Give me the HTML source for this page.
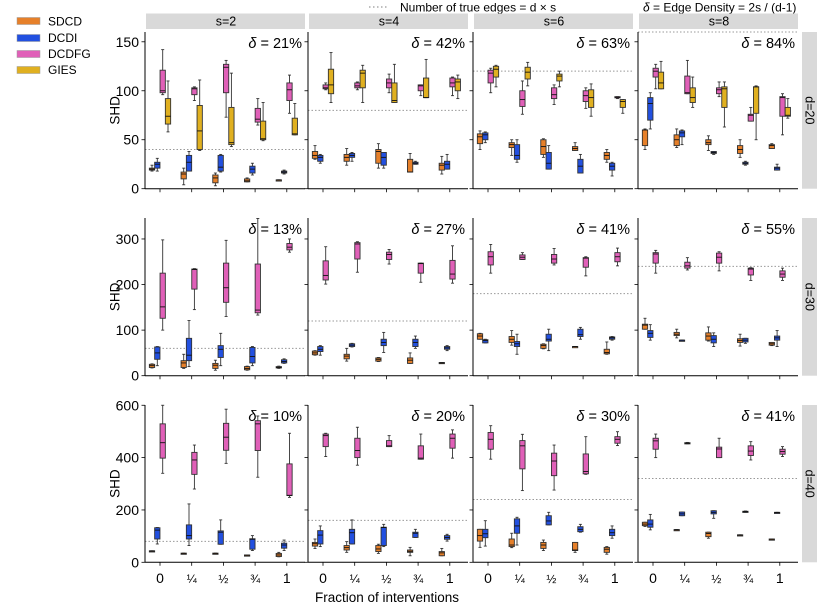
<!DOCTYPE html>
<html><head><meta charset="utf-8">
<style>
html,body{margin:0;padding:0;background:#fff;}
svg{display:block;font-family:"Liberation Sans","DejaVu Sans",sans-serif;}
</style></head>
<body>
<svg id="chart" width="830" height="605" viewBox="0 0 830 605" xmlns="http://www.w3.org/2000/svg">
  <g>
    <rect x="17" y="17.5" width="23" height="7" fill="#e6802a" stroke="#999" stroke-width="0.5"/>
    <text x="48" y="25.5" font-size="12">SDCD</text>
    <rect x="17" y="34.5" width="23" height="7" fill="#2250e0" stroke="#999" stroke-width="0.5"/>
    <text x="48" y="42" font-size="12">DCDI</text>
    <rect x="17" y="50.5" width="23" height="7" fill="#e060b8" stroke="#999" stroke-width="0.5"/>
    <text x="48" y="58" font-size="12">DCDFG</text>
    <rect x="17" y="66.5" width="23" height="7" fill="#e0b020" stroke="#999" stroke-width="0.5"/>
    <text x="48" y="74" font-size="12">GIES</text>
  </g>
  <g>
    <line x1="369" y1="7" x2="389" y2="7" stroke="#999" stroke-width="1.2" stroke-dasharray="1.5,2.5"/>
    <text x="400" y="11.5" font-size="12">Number of true edges = d × s</text>
    <text x="643" y="11.5" font-size="12"><tspan font-style="italic">δ</tspan> = Edge Density = 2s / (d-1)</text>
  </g>
  <g id="plots"></g>
  <text x="387" y="602" font-size="13.5" text-anchor="middle">Fraction of interventions</text>
</svg>
<script>
const categories = ["0","¼","½","¾","1"];
const colLabels = ["s=2","s=4","s=6","s=8"];
const rowLabels = ["d=20","d=30","d=40"];
const deltaLabels = [["21%","42%","63%","84%"],["13%","27%","41%","55%"],["10%","20%","30%","41%"]];
const trueEdges = [[40,80,120,160],[60,120,180,240],[80,160,240,320]];
const yTicks = [[0,50,100,150],[0,100,200,300],[0,200,400,600]];
const yMax = [160,346,601];
const methods = ["SDCD","DCDI","DCDFG","GIES"];
const colors = ["#e6802a","#2250e0","#e060b8","#e0b020"];

// each box: [whiskerLow, q1, median, q3, whiskerHigh]
const sdcd = [
 [[[18,19,20,21,24],[4,10,15,17,21],[3,6,11,14,16],[7,7,8,10,11],[9,9,9,9,9]],
  [[30,31,34,38,44],[24,28,32,35,41],[21,26,38,40,46],[17,17,17,30,36],[15,19,24,26,33]],
  [[40,46,53,56,59],[34,42,45,47,50],[32,35,43,50,51],[39,39,41,43,47],[27,30,34,37,40]],
  [[40,44,60,60,61],[42,44,50,55,61],[39,45,47,50,54],[32,36,40,44,50],[41,41,44,45,46]]],
 [[[17,18,22,25,26],[16,18,28,33,47],[12,16,23,27,34],[12,13,16,20,21],[16,17,18,20,21]],
  [[45,46,50,54,55],[32,37,43,47,60],[31,32,36,39,40],[27,27,34,39,50],[28,28,28,29,29]],
  [[80,80,87,92,93],[67,73,80,86,99],[59,60,66,69,70],[63,63,64,64,64],[47,48,51,58,74]],
  [[102,102,111,113,126],[83,88,91,95,102],[76,78,87,94,107],[65,73,77,81,91],[66,67,70,73,73]]],
 [[[42,42,43,44,44],[33,33,34,35,35],[33,33,34,35,35],[26,26,27,28,28],[21,22,28,34,38]],
  [[53,62,71,76,89],[38,47,56,64,79],[34,41,51,64,69],[25,38,42,47,57],[25,25,36,41,53]],
  [[57,81,102,126,126],[56,60,66,89,111],[45,53,66,76,85],[38,45,47,76,76],[31,38,50,57,60]],
  [[137,140,146,153,153],[122,122,124,125,125],[92,98,110,115,115],[103,103,104,105,105],[87,87,88,89,89]]]
];
const dcdi = [
 [[[18,21,25,27,31],[18,18,27,34,38],[17,18,22,34,35],[14,16,20,23,26],[15,16,17,18,19]],
  [[26,28,32,34,35],[28,32,34,36,37],[21,24,32,37,37],[25,25,26,27,28],[20,20,25,28,35]],
  [[47,50,55,57,58],[27,30,34,45,50],[20,20,26,37,44],[16,16,23,30,35],[13,19,23,26,27]],
  [[61,70,87,93,98],[45,53,57,59,60],[35,36,37,38,38],[24,25,26,27,28],[19,19,21,22,25]]],
 [[[22,36,50,63,64],[20,33,45,82,121],[22,40,58,66,93],[22,28,42,62,64],[27,28,31,35,37]],
  [[45,53,58,64,66],[63,64,67,70,71],[51,66,73,80,95],[60,64,73,80,87],[55,58,61,64,66]],
  [[72,72,77,79,80],[47,64,70,75,91],[55,76,80,91,102],[80,86,90,102,106],[78,80,83,85,86]],
  [[78,84,93,99,112],[77,77,78,78,78],[64,72,80,88,94],[71,74,78,82,82],[64,78,83,87,99]]],
 [[[70,89,123,132,133],[64,89,102,143,223],[69,69,115,120,162],[45,50,88,90,102],[45,54,66,73,85]],
  [[60,70,104,121,139],[70,70,113,126,162],[60,64,133,134,145],[95,95,111,115,126],[81,88,95,102,107]],
  [[62,94,109,126,159],[66,111,139,166,172],[143,143,158,178,191],[115,117,126,136,145],[92,102,113,126,139]],
  [[124,134,146,162,183],[178,178,185,192,192],[168,185,191,197,197],[191,192,194,195,196],[189,189,190,191,191]]]
];
const dcdfg = [
 [[[96,98,100,121,142],[90,96,102,103,104],[73,98,124,127,131],[65,68,71,82,92],[77,90,101,108,116]],
  [[101,102,103,106,108],[101,103,105,108,109],[98,103,108,112,117],[95,100,105,106,106],[95,104,108,113,114]],
  [[98,108,118,121,123],[76,84,91,100,110],[86,92,96,103,106],[82,89,95,100,103],[92,93,93,94,94]],
  [[102,114,120,123,127],[97,97,98,115,131],[94,97,101,103,109],[69,69,75,76,83],[55,74,93,94,97]]],
 [[[100,126,151,225,298],[145,190,233,234,235],[130,161,193,247,297],[133,138,144,245,345],[271,276,282,290,300]],
  [[201,210,220,252,283],[227,256,289,292,294],[245,255,266,271,277],[205,225,246,247,247],[203,212,223,253,285]],
  [[225,243,261,272,288],[255,255,260,265,270],[243,247,256,266,279],[219,238,258,259,261],[241,250,261,270,280]],
  [[225,247,267,270,275],[232,236,241,249,259],[230,247,260,269,272],[209,221,234,236,237],[209,216,223,230,236]]],
 [[[340,398,457,529,600],[280,336,391,420,448],[378,428,478,531,585],[325,427,529,541,559],[248,255,256,376,493]],
  [[404,442,484,490,493],[371,400,427,474,516],[442,442,445,465,484],[394,394,398,445,490],[398,436,474,490,506]],
  [[394,432,470,496,522],[274,357,445,465,489],[276,331,387,417,448],[336,338,347,414,480],[446,455,470,480,499]],
  [[400,432,464,474,490],[453,453,455,457,458],[400,400,433,440,474],[391,408,425,445,461],[404,413,423,432,442]]]
];
const gies = [
 [[[58,66,74,92,110],[39,40,59,85,111],[43,45,47,83,118],[49,50,51,69,88],[55,55,56,72,87]],
  [[88,97,106,122,139],[88,103,118,121,126],[88,88,90,108,127],[93,93,93,113,132],[92,100,109,112,116]],
  [[104,114,122,125,126],[105,112,119,124,129],[104,110,115,117,120],[74,83,93,101,107],[77,83,89,91,91]],
  [[102,102,108,119,130],[83,88,93,103,114],[63,83,102,104,109],[50,77,104,104,105],[72,74,75,83,92]]],
 null, null
];

const colLeft = [145,308,473,638];
const panelW = 160;
const rowTop = [32,218,405];
const rowBottom = [188.7,375.7,562.3];
const NS = "http://www.w3.org/2000/svg";
const plots = document.getElementById("plots");
function mk(tag, attrs, parent){
  const e = document.createElementNS(NS, tag);
  for (const k in attrs) e.setAttribute(k, attrs[k]);
  (parent||plots).appendChild(e);
  return e;
}
function xScale(c, i){ return colLeft[c] + 15 + 31.7*i; }
function yScale(r, v){ return rowBottom[r] - (rowBottom[r]-rowTop[r]) * v / yMax[r]; }

colLabels.forEach((lab, c) => {
  const g = mk("g", {});
  
  
  mk("rect", {x: colLeft[c]+1, y: 13.5, width: panelW-1, height: 15.5, fill: "#d9d9d9"}, g);
  const t = mk("text", {x: colLeft[c]+panelW/2+1, y: 25.5, "font-size": 12.5, "text-anchor": "middle"}, g);
  t.textContent = lab;
});
rowLabels.forEach((lab, r) => {
  const g = mk("g", {});
  
  
  mk("rect", {x: 802, y: rowTop[r], width: 15, height: rowBottom[r]-rowTop[r], fill: "#d9d9d9"}, g);
  const cy = (rowTop[r]+rowBottom[r])/2;
  const t = mk("text", {x: 809.5, y: cy, "font-size": 12.5, "text-anchor": "middle", transform: "rotate(90 809.5 "+cy+")", "dominant-baseline": "central"}, g);
  t.textContent = lab;
  const yl = mk("text", {x: 115, y: cy, "font-size": 13.5, "text-anchor": "middle", transform: "rotate(-90 115 "+cy+")", "dominant-baseline": "central"});
  
  
  yl.textContent = "SHD";
});

const series = [sdcd, dcdi, dcdfg, gies];
const offsets = [-8, -2.7, 2.7, 8];
const boxW = 5.3;

for (let r = 0; r < 3; r++) {
  for (let c = 0; c < 4; c++) {
    const L = colLeft[c], T = rowTop[r], B = rowBottom[r];
    const g = mk("g", {});
    
    
    const ry = yScale(r, trueEdges[r][c]);
    const ref = mk("line", {x1: L, x2: L+panelW, y1: ry, y2: ry, stroke: "#999", "stroke-width": 1, "stroke-dasharray": "1.5,2"}, g);
    
    
    mk("line", {x1: L, x2: L, y1: T, y2: B, stroke: "#000", "stroke-width": 1}, g);
    mk("line", {x1: L, x2: L+panelW, y1: B, y2: B, stroke: "#000", "stroke-width": 1}, g);
    yTicks[r].forEach(v => {
      const y = yScale(r, v);
      mk("line", {x1: L-3.5, x2: L, y1: y, y2: y, stroke: "#000", "stroke-width": 0.8}, g);
      if (c === 0) {
        const t = mk("text", {x: L-6, y: y+5, "font-size": 14, "text-anchor": "end"}, g);
        
        
        t.textContent = v;
      }
    });
    categories.forEach((cat, i) => {
      const x = xScale(c, i);
      mk("line", {x1: x, x2: x, y1: B, y2: B+3.5, stroke: "#000", "stroke-width": 0.8}, g);
      if (r === 2) {
        const frac = cat !== "0" && cat !== "1";
        const t = mk("text", {x: x, y: 583, "font-size": frac ? 12 : 14, "text-anchor": "middle"}, g);
        
        
        t.textContent = cat;
      }
    });
    const dl = mk("text", {x: L+panelW-3, y: T+16, "font-size": 14.5, "text-anchor": "end"}, g);
    
    
    dl.innerHTML = '<tspan font-style="italic">δ</tspan> = ' + deltaLabels[r][c];
    series.forEach((s, m) => {
      if (!s[r]) return;
      s[r][c].forEach((b, i) => {
        const cx = xScale(c, i) + offsets[m];
        const bg = mk("g", {}, g);
        
        
        const yl = yScale(r, b[0]), y1 = yScale(r, b[1]), ym = yScale(r, b[2]), y3 = yScale(r, b[3]), yh = yScale(r, b[4]);
        const st = {stroke: "#333", "stroke-width": 0.9};
        mk("line", Object.assign({x1: cx, x2: cx, y1: yh, y2: y3}, st), bg);
        mk("line", Object.assign({x1: cx, x2: cx, y1: y1, y2: yl}, st), bg);
        mk("line", Object.assign({x1: cx-1.5, x2: cx+1.5, y1: yh, y2: yh}, st), bg);
        mk("line", Object.assign({x1: cx-1.5, x2: cx+1.5, y1: yl, y2: yl}, st), bg);
        mk("rect", {x: cx-boxW/2, y: y3, width: boxW, height: Math.max(y1-y3, 1.2), fill: colors[m], stroke: "#333", "stroke-width": 0.9}, bg);
        mk("line", {x1: cx-boxW/2, x2: cx+boxW/2, y1: ym, y2: ym, stroke: "#111", "stroke-width": 0.9}, bg);
      });
    });
  }
}
</script>
</body></html>
